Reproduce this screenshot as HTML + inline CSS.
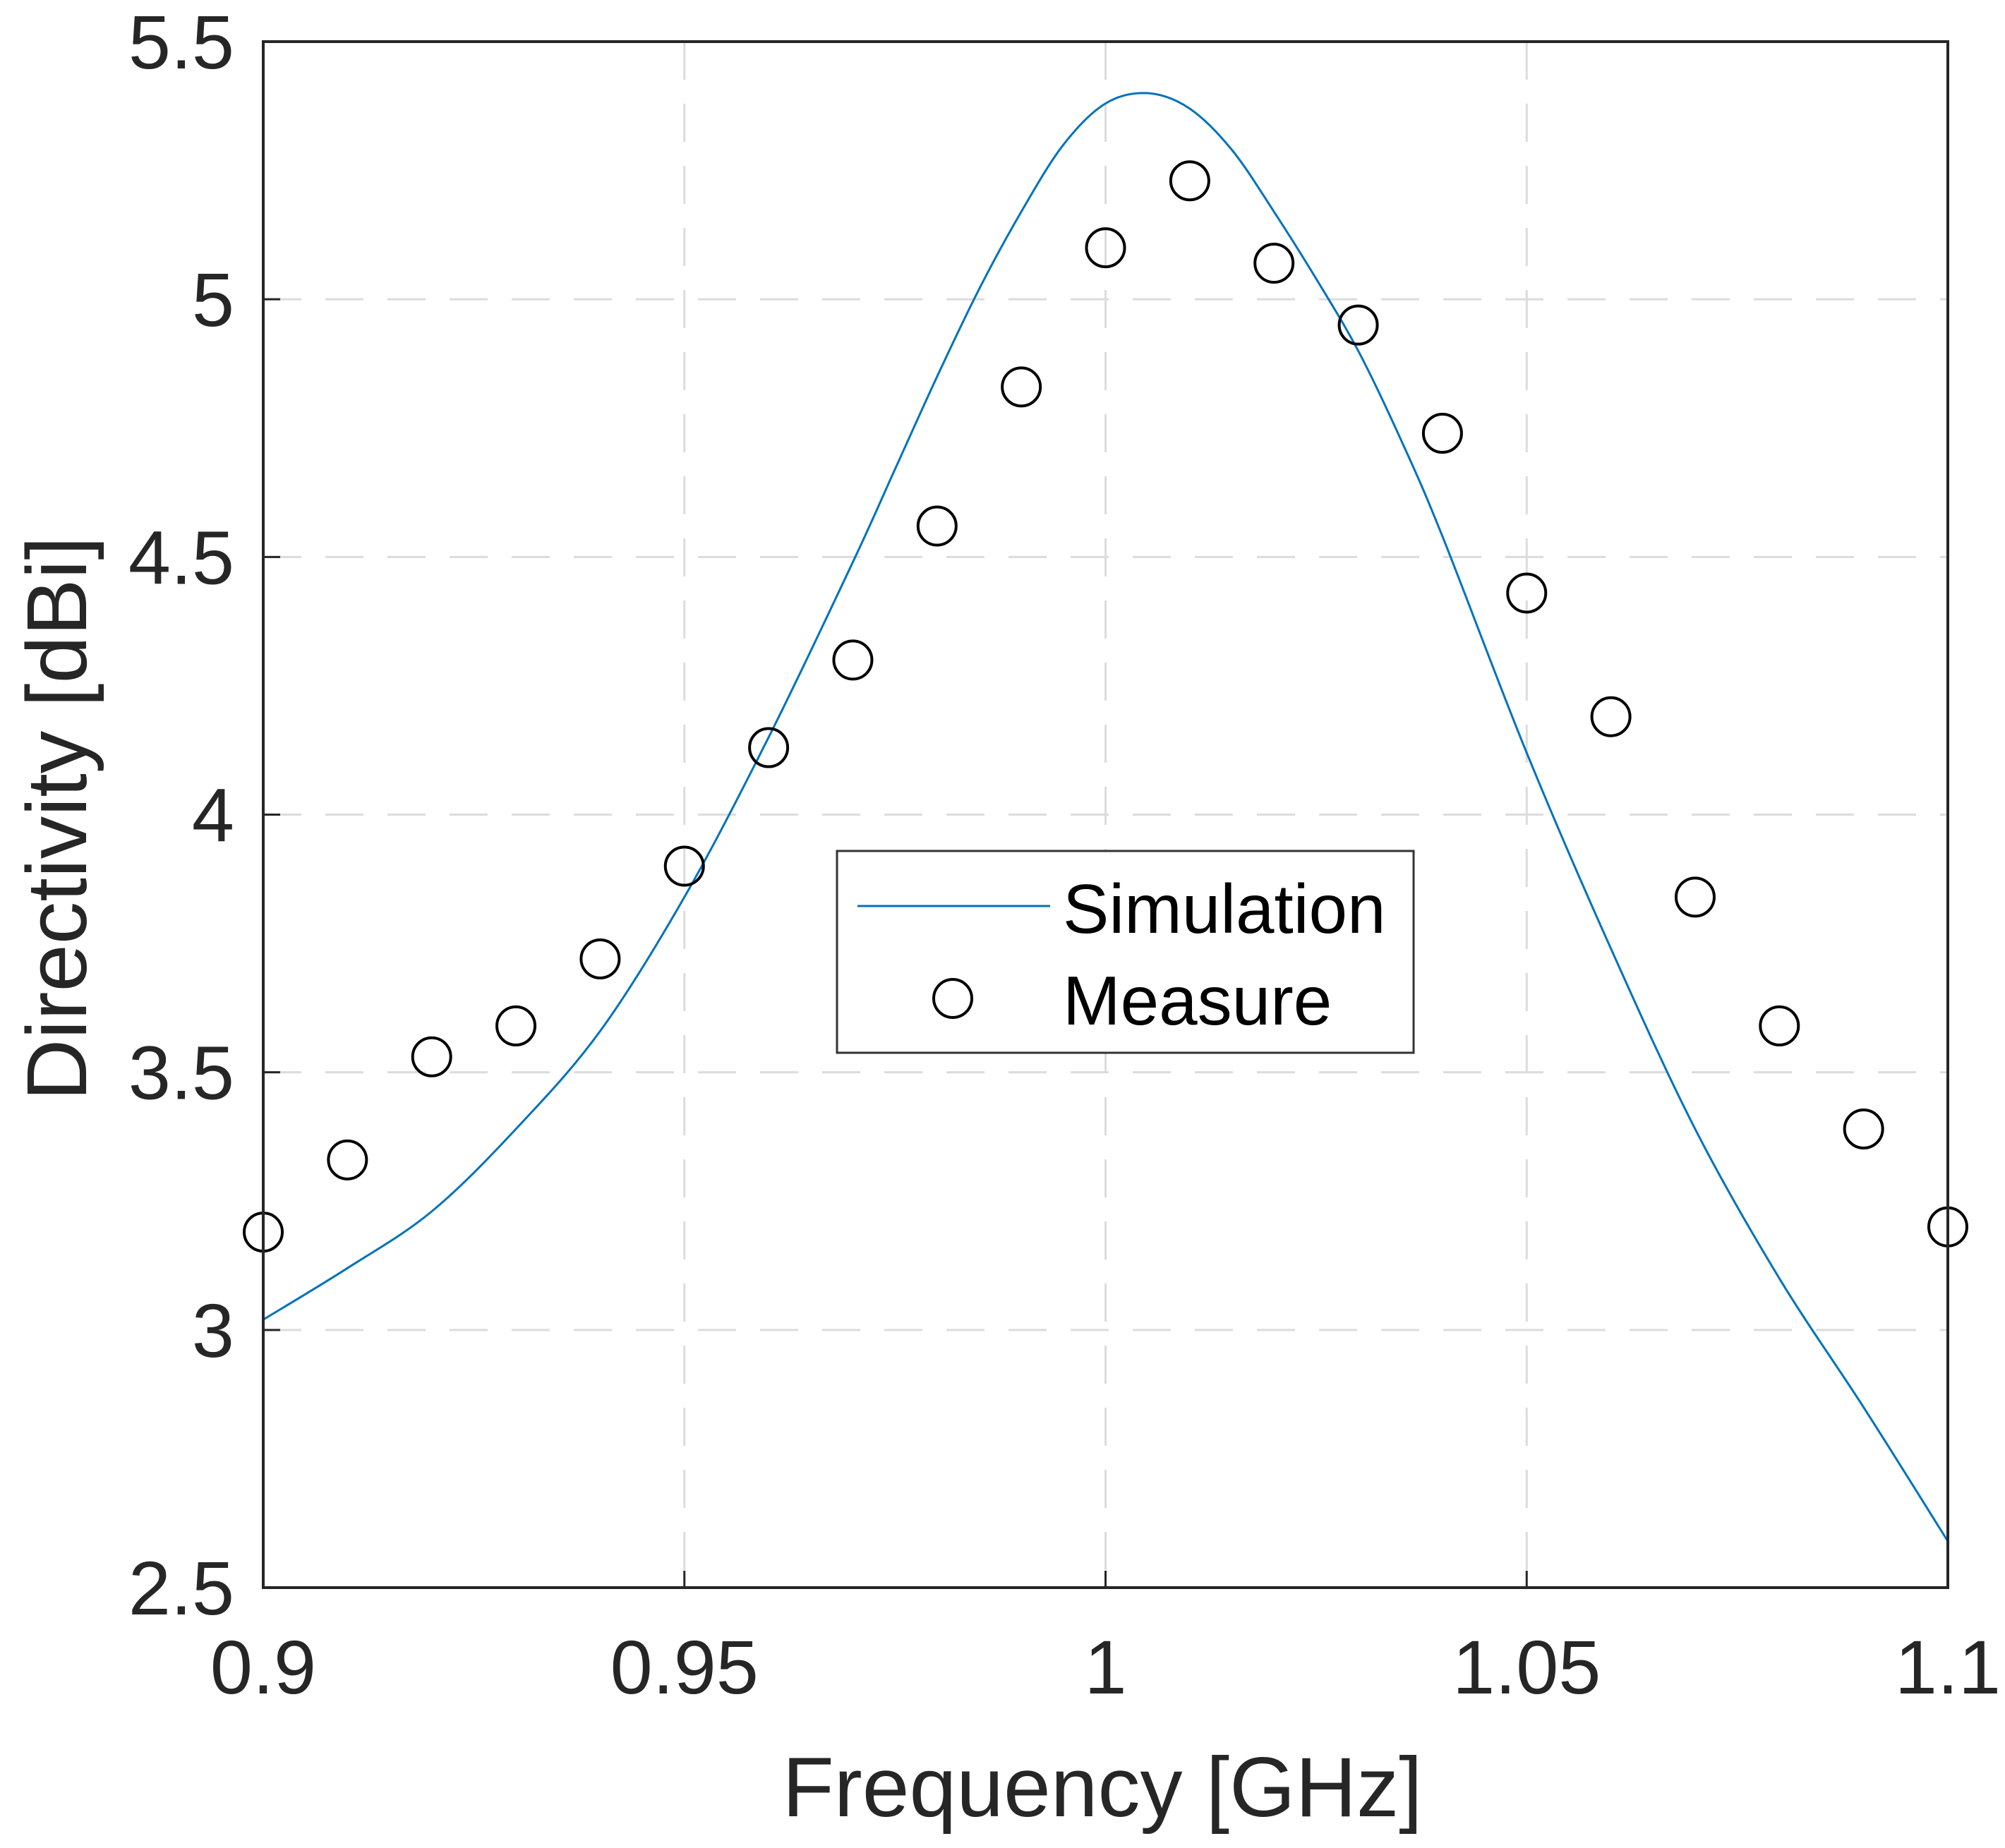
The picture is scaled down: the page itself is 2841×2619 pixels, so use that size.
<!DOCTYPE html>
<html><head><meta charset="utf-8"><style>
html,body{margin:0;padding:0;background:#fff;}
svg{display:block;font-family:"Liberation Sans",Arial,sans-serif;}
</style></head><body>
<svg id="chart" width="2841" height="2619" viewBox="0 0 2841 2619" xmlns="http://www.w3.org/2000/svg">
<rect width="2841" height="2619" fill="#fff"/>
<g id="grid"></g>
<g id="series"></g>
<g id="axes"></g>
<text x="1562" y="2574" font-size="120" text-anchor="middle" fill="#262626">Frequency [GHz]</text>
<text transform="translate(122,1160) rotate(-90)" font-size="121" text-anchor="middle" fill="#262626">Directivity [dBi]</text>
<g>
<rect x="1186" y="1206" width="817" height="286" fill="#fff" stroke="#333" stroke-width="3"/>
<line x1="1215" y1="1284" x2="1488" y2="1284" stroke="#0072BD" stroke-width="3"/>
<text x="1506" y="1322" font-size="98" fill="#000">Simulation</text>
<circle cx="1350" cy="1415" r="27" fill="none" stroke="#000" stroke-width="4"/>
<text x="1506" y="1452" font-size="98" fill="#000">Measure</text>
</g>
</svg>
<script>
const xTicks = [0.9, 0.95, 1, 1.05, 1.1];
const xTickLabels = ["0.9", "0.95", "1", "1.05", "1.1"];
const yTicks = [2.5, 3, 3.5, 4, 4.5, 5, 5.5];
const yTickLabels = ["2.5", "3", "3.5", "4", "4.5", "5", "5.5"];
const measureFreq = [0.90,0.91,0.92,0.93,0.94,0.95,0.96,0.97,0.98,0.99,1.00,1.01,1.02,1.03,1.04,1.05,1.06,1.07,1.08,1.09,1.10];
const measureVals = [3.19,3.33,3.53,3.59,3.72,3.90,4.13,4.30,4.56,4.83,5.10,5.23,5.07,4.95,4.74,4.43,4.19,3.84,3.59,3.39,3.20];
const simFreq = [0.90,0.91,0.92,0.93,0.94,0.95,0.96,0.97,0.975,0.98,0.985,0.99,0.995,1.00,1.005,1.01,1.015,1.02,1.025,1.03,1.035,1.04,1.05,1.06,1.07,1.08,1.09,1.10];
const simVals = [3.02,3.12,3.23,3.39,3.58,3.84,4.15,4.49,4.67,4.85,5.02,5.17,5.30,5.38,5.40,5.37,5.29,5.17,5.04,4.90,4.73,4.54,4.12,3.74,3.39,3.10,2.85,2.59];

const L=373, R=2760, T=59, B=2250;
const xMin=0.9, xMax=1.1, yMin=2.5, yMax=5.5;
function sx(v){return L+(v-xMin)/(xMax-xMin)*(R-L);}
function sy(v){return B-(v-yMin)/(yMax-yMin)*(B-T);}
const NS="http://www.w3.org/2000/svg";
function mk(tag,attrs,parent){const e=document.createElementNS(NS,tag);for(const k in attrs)e.setAttribute(k,attrs[k]);parent.appendChild(e);return e;}
const grid=document.getElementById('grid'), axes=document.getElementById('axes'), series=document.getElementById('series');

xTicks.forEach((t,i)=>{
  if(i>0&&i<xTicks.length-1){
    const g=mk('line',{x1:sx(t),x2:sx(t),y1:T,y2:B,stroke:'#dcdcdc','stroke-width':3,'stroke-dasharray':'54 34'},grid);
    
    
  }
  const tk=mk('line',{x1:sx(t),x2:sx(t),y1:B,y2:B-24,stroke:'#262626','stroke-width':3},axes);
  
  
  const tx=mk('text',{x:sx(t),y:2400,'font-size':108,'text-anchor':'middle',fill:'#262626'},axes);
  tx.textContent=xTickLabels[i];
  
  
});
yTicks.forEach((t,i)=>{
  if(i>0&&i<yTicks.length-1){
    const g=mk('line',{x1:L,x2:R,y1:sy(t),y2:sy(t),stroke:'#dcdcdc','stroke-width':3,'stroke-dasharray':'54 34'},grid);
    
    
  }
  const tk=mk('line',{x1:L,x2:L+24,y1:sy(t),y2:sy(t),stroke:'#262626','stroke-width':3},axes);
  
  
  const tx=mk('text',{x:332,y:sy(t)+38,'font-size':108,'text-anchor':'end',fill:'#262626'},axes);
  tx.textContent=yTickLabels[i];
  
  
});
const frame=mk('rect',{x:L,y:T,width:R-L,height:B-T,fill:'none',stroke:'#262626','stroke-width':4},axes);



const pts=simFreq.map((f,i)=>[sx(f),sy(simVals[i])]);
let d='M'+pts[0][0]+','+pts[0][1];
for(let i=0;i<pts.length-1;i++){
  const p0=pts[Math.max(0,i-1)],p1=pts[i],p2=pts[i+1],p3=pts[Math.min(pts.length-1,i+2)];
  const c1=[p1[0]+(p2[0]-p0[0])/6,p1[1]+(p2[1]-p0[1])/6];
  const c2=[p2[0]-(p3[0]-p1[0])/6,p2[1]-(p3[1]-p1[1])/6];
  d+=' C'+c1[0]+','+c1[1]+' '+c2[0]+','+c2[1]+' '+p2[0]+','+p2[1];
}
const sim=mk('path',{d:d,fill:'none',stroke:'#0072BD','stroke-width':3},series);



measureFreq.forEach((f,i)=>{
  const c=mk('circle',{cx:sx(f),cy:sy(measureVals[i]),r:27,fill:'none',stroke:'#000','stroke-width':4},series);
  
  
});
</script>
</body></html>
